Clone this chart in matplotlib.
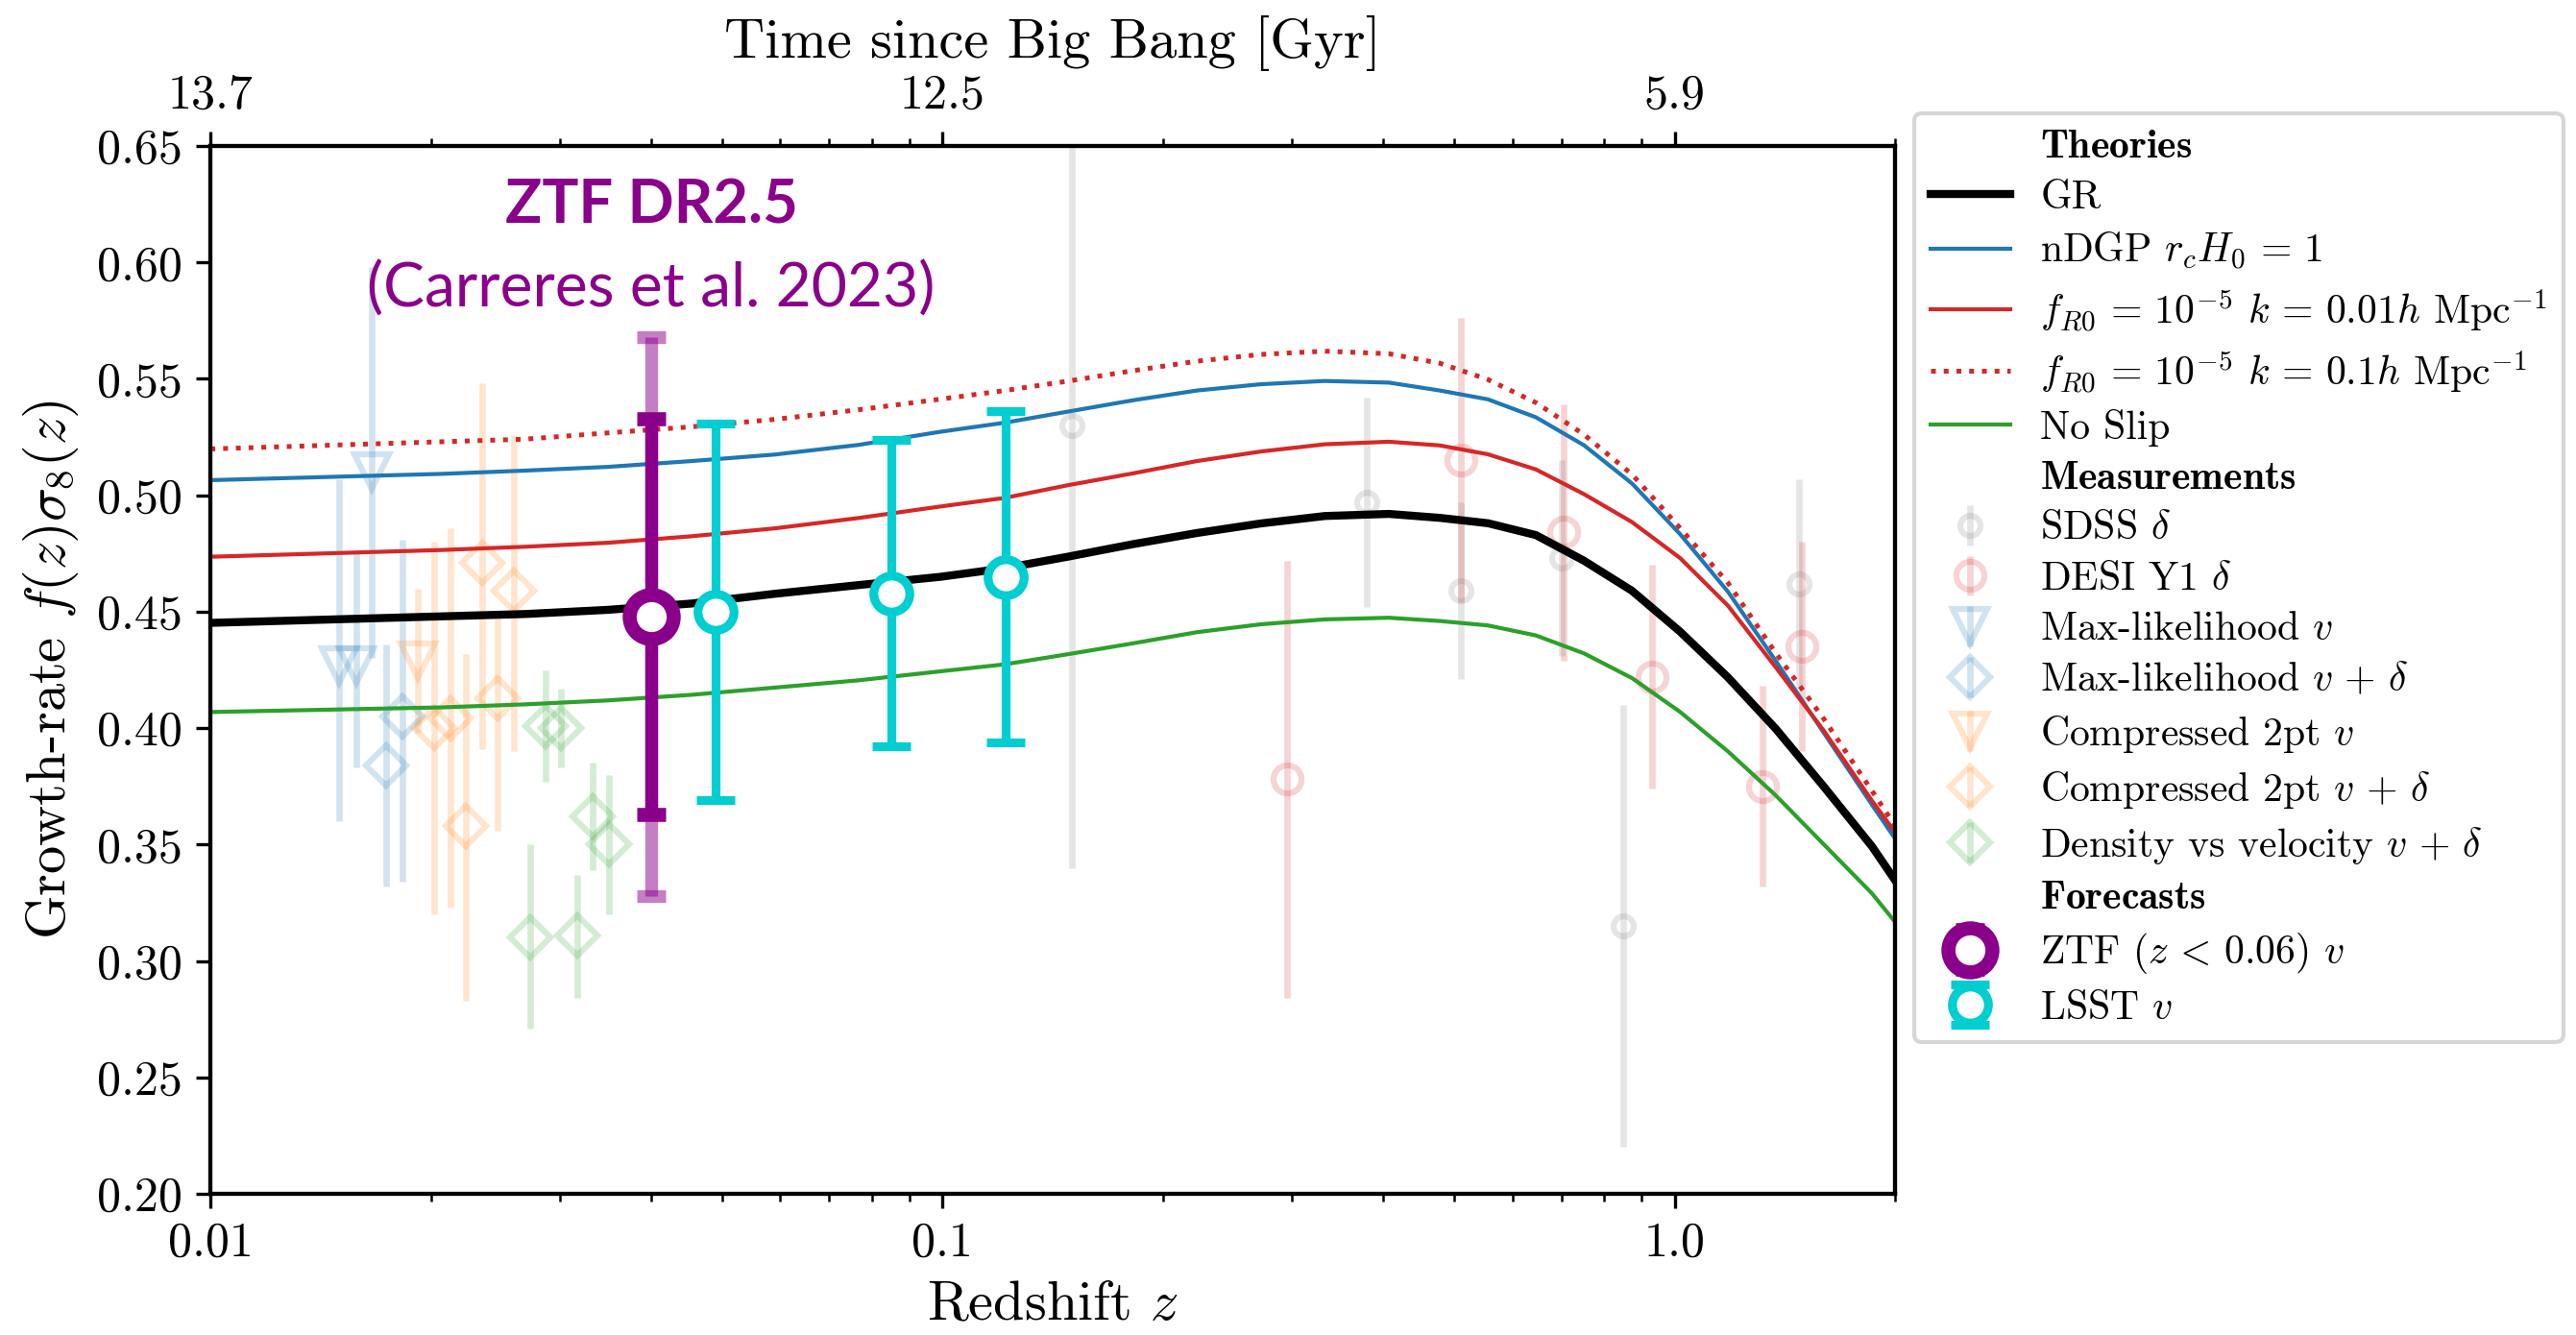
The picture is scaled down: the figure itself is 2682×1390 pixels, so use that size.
import matplotlib
matplotlib.use("Agg")
import matplotlib.pyplot as plt
from matplotlib.lines import Line2D
from matplotlib.ticker import NullFormatter

plt.rcParams['font.family'] = 'serif'
plt.rcParams['font.serif'] = ['cmr10']
plt.rcParams['mathtext.fontset'] = 'cm'
plt.rcParams['axes.unicode_minus'] = False
plt.rcParams['axes.formatter.use_mathtext'] = True
plt.rcParams['axes.linewidth'] = 1.0

# --- theory curves ---
z_th = [0.0100, 0.0207, 0.0269, 0.0349, 0.0454, 0.0590, 0.0766, 0.0994, 0.1217,
        0.1487, 0.1819, 0.2225, 0.2720, 0.3327, 0.4070, 0.4778, 0.5558, 0.6462,
        0.7516, 0.8740, 1.0164, 1.1820, 1.3748, 1.5986, 1.8592, 2.0000]
gr = [0.4452, 0.4480, 0.4490, 0.4508, 0.4535, 0.4577, 0.4614, 0.4650, 0.4687,
      0.4737, 0.4790, 0.4838, 0.4879, 0.4911, 0.4920, 0.4903, 0.4880, 0.4829,
      0.4719, 0.4590, 0.4415, 0.4218, 0.3996, 0.3748, 0.3492, 0.3346]
ndgp = [0.5065, 0.5092, 0.5106, 0.5122, 0.5147, 0.5175, 0.5216, 0.5273, 0.5312,
        0.5360, 0.5408, 0.5450, 0.5477, 0.5491, 0.5484, 0.5450, 0.5412, 0.5335,
        0.5215, 0.5051, 0.4834, 0.4586, 0.4287, 0.3979, 0.3671, 0.3525]
fr_k001 = [0.4736, 0.4765, 0.4779, 0.4796, 0.4824, 0.4858, 0.4902, 0.4952, 0.4989,
           0.5044, 0.5094, 0.5147, 0.5188, 0.5219, 0.5230, 0.5214, 0.5176, 0.5111,
           0.5005, 0.4885, 0.4731, 0.4526, 0.4260, 0.3988, 0.3688, 0.3552]
fr_k01 = [0.5199, 0.5230, 0.5241, 0.5268, 0.5294, 0.5326, 0.5367, 0.5413, 0.5450,
          0.5491, 0.5535, 0.5576, 0.5605, 0.5619, 0.5608, 0.5567, 0.5497, 0.5398,
          0.5261, 0.5090, 0.4860, 0.4624, 0.4321, 0.4039, 0.3731, 0.3580]
noslip = [0.4069, 0.4089, 0.4102, 0.4119, 0.4143, 0.4174, 0.4205, 0.4244, 0.4274,
          0.4318, 0.4364, 0.4412, 0.4446, 0.4467, 0.4474, 0.4460, 0.4441, 0.4398,
          0.4321, 0.4215, 0.4070, 0.3900, 0.3710, 0.3500, 0.3290, 0.3167]

# --- measurements ---
z_sdss = [0.15, 0.38, 0.51, 0.70, 0.85, 1.48]
fs8_sdss = [0.530, 0.497, 0.459, 0.473, 0.315, 0.462]
err_sdss = [0.19, 0.045, 0.038, 0.042, 0.095, 0.045]

z_desi = [0.295, 0.51, 0.706, 0.93, 1.317, 1.491]
fs8_desi = [0.378, 0.515, 0.484, 0.422, 0.375, 0.435]
err_desi = [0.094, 0.061, 0.055, 0.048, 0.043, 0.045]

z_ml_v = [0.0150, 0.0158, 0.0166]
fs8_ml_v = [0.427, 0.427, 0.510]
lo_ml_v = [0.067, 0.044, 0.080]
hi_ml_v = [0.080, 0.048, 0.088]

z_ml_vd = [0.0174, 0.0183]
fs8_ml_vd = [0.384, 0.405]
lo_ml_vd = [0.052, 0.071]
hi_ml_vd = [0.052, 0.076]

z_c2_v = [0.0192]
fs8_c2_v = [0.429]
lo_c2_v = [0.031]
hi_c2_v = [0.031]

z_c2_vd = [0.0202, 0.0213, 0.0223, 0.0235, 0.0247, 0.0260]
fs8_c2_vd = [0.400, 0.404, 0.358, 0.471, 0.413, 0.459]
lo_c2_vd = [0.080, 0.081, 0.075, 0.080, 0.057, 0.069]
hi_c2_vd = [0.080, 0.082, 0.074, 0.077, 0.037, 0.067]

z_dv = [0.0273, 0.0287, 0.0301, 0.0317, 0.0333, 0.0350]
fs8_dv = [0.310, 0.401, 0.400, 0.311, 0.362, 0.350]
lo_dv = [0.039, 0.024, 0.017, 0.027, 0.023, 0.030]
hi_dv = [0.040, 0.024, 0.017, 0.026, 0.023, 0.030]

# --- forecasts ---
z_ztf = [0.040]
fs8_ztf = [0.448]
err_ztf = [0.085]
err_ztf_wide = [0.120]

z_lsst = [0.049, 0.085, 0.122]
fs8_lsst = [0.450, 0.458, 0.465]
err_lsst = [0.081, 0.066, 0.071]

top_ticks = [0.01, 0.1, 1.0]
top_labels = ['13.7', '12.5', '5.9']
bottom_labels = ['0.01', '0.1', '1.0']

PURPLE = 'darkmagenta'
CYAN = 'darkturquoise'

fig = plt.figure(figsize=(2682 / 300, 1390 / 300), dpi=300)
ax = fig.add_axes([0.0817, 0.1058, 0.6540, 0.7848])

# measurements (faint)
meas_kw = dict(mfc='none', alpha=0.2, elinewidth=1.6, zorder=1)
h_sdss = ax.errorbar(z_sdss, fs8_sdss, yerr=err_sdss, fmt='o', color='gray',
                     ms=5, mew=1.5, **meas_kw)
h_desi = ax.errorbar(z_desi, fs8_desi, yerr=err_desi, fmt='o', color='C3',
                     ms=7, mew=1.5, **meas_kw)
h_mlv = ax.errorbar(z_ml_v, fs8_ml_v, yerr=[lo_ml_v, hi_ml_v], fmt='v', color='C0',
                    ms=8.5, mew=1.5, **meas_kw)
h_mlvd = ax.errorbar(z_ml_vd, fs8_ml_vd, yerr=[lo_ml_vd, hi_ml_vd], fmt='D', color='C0',
                     ms=7, mew=1.5, **meas_kw)
h_c2v = ax.errorbar(z_c2_v, fs8_c2_v, yerr=[lo_c2_v, hi_c2_v], fmt='v', color='C1',
                    ms=8.5, mew=1.5, **meas_kw)
h_c2vd = ax.errorbar(z_c2_vd, fs8_c2_vd, yerr=[lo_c2_vd, hi_c2_vd], fmt='D', color='C1',
                     ms=7, mew=1.5, **meas_kw)
h_dv = ax.errorbar(z_dv, fs8_dv, yerr=[lo_dv, hi_dv], fmt='D', color='C2',
                   ms=7, mew=1.5, **meas_kw)

# theories
h_gr, = ax.plot(z_th, gr, color='k', lw=2.0, zorder=3)
h_ndgp, = ax.plot(z_th, ndgp, color='C0', lw=1.0, zorder=3)
h_fr1, = ax.plot(z_th, fr_k001, color='C3', lw=1.0, zorder=3)
h_fr2, = ax.plot(z_th, fr_k01, color='C3', lw=1.2, ls=':', zorder=3)
h_ns, = ax.plot(z_th, noslip, color='C2', lw=1.0, zorder=3)

# forecasts
ax.errorbar(z_ztf, fs8_ztf, yerr=err_ztf_wide, fmt='none', ecolor=PURPLE, alpha=0.5,
            elinewidth=3.2, capsize=3.6, capthick=3.2, zorder=4)
h_ztf = ax.errorbar(z_ztf, fs8_ztf, yerr=err_ztf, fmt='o', color=PURPLE, mfc='white',
                    ms=11, mew=3.5, elinewidth=3.2, capsize=3.6, capthick=3.2, zorder=5)
h_lsst = ax.errorbar(z_lsst, fs8_lsst, yerr=err_lsst, fmt='o', color=CYAN, mfc='white',
                     ms=9, mew=2.2, elinewidth=2.2, capsize=4.7, capthick=2.2, zorder=5)

ax.text(0.04, 0.6244, 'ZTF DR2.5', family='Lato', weight='bold', fontsize=15.2,
        color=PURPLE, ha='center', va='center')
ax.text(0.04, 0.5885, '(Carreres et al. 2023)', family='Lato', fontsize=15.4,
        color=PURPLE, ha='center', va='center')

ax.set_xscale('log')
ax.set_xlim(0.01, 2.0)
ax.set_ylim(0.20, 0.65)
ax.set_xticks(top_ticks)
ax.set_xticklabels(bottom_labels)
ax.xaxis.set_minor_formatter(NullFormatter())
ax.set_yticks([0.20 + 0.05 * i for i in range(10)])
ax.set_yticklabels(['%.2f' % (0.20 + 0.05 * i) for i in range(10)])
ax.tick_params(labelsize=12)
ax.set_xlabel(r'Redshift $z$', fontsize=14)
ax.set_ylabel(r'Growth-rate $f(z)\sigma_8(z)$', fontsize=14)

ax2 = ax.twiny()
ax2.set_xscale('log')
ax2.set_xlim(ax.get_xlim())
ax2.set_xticks(top_ticks)
ax2.set_xticklabels(top_labels)
ax2.xaxis.set_minor_formatter(NullFormatter())
ax2.tick_params(labelsize=12)
ax2.set_xlabel('Time since Big Bang [Gyr]', fontsize=14)

blank = Line2D([], [], color='none')
handles = [blank, h_gr, h_ndgp, h_fr1, h_fr2, h_ns,
           blank, h_sdss, h_desi, h_mlv, h_mlvd, h_c2v, h_c2vd, h_dv,
           blank, h_ztf, h_lsst]
labels = [r'$\mathbf{Theories}$', 'GR', r'nDGP $r_cH_0\,=\,1$',
          r'$f_{R0}\,=\,10^{-5}$ $k\,=\,0.01h$ Mpc$^{-1}$',
          r'$f_{R0}\,=\,10^{-5}$ $k\,=\,0.1h$ Mpc$^{-1}$', 'No Slip',
          r'$\mathbf{Measurements}$', r'SDSS $\delta$', r'DESI Y1 $\delta$',
          r'Max-likelihood $v$', r'Max-likelihood $v\,+\,\delta$',
          r'Compressed 2pt $v$', r'Compressed 2pt $v\,+\,\delta$',
          r'Density vs velocity $v\,+\,\delta$',
          r'$\mathbf{Forecasts}$', r'ZTF ($z\,<\,0.06$) $v$', r'LSST $v$']
ax.legend(handles, labels, loc='upper left', bbox_to_anchor=(1.0114, 1.0312),
          borderaxespad=0, fontsize=10, labelspacing=0.36, handlelength=2.0,
          handletextpad=0.75)

fig.savefig('out.png', dpi=300)
